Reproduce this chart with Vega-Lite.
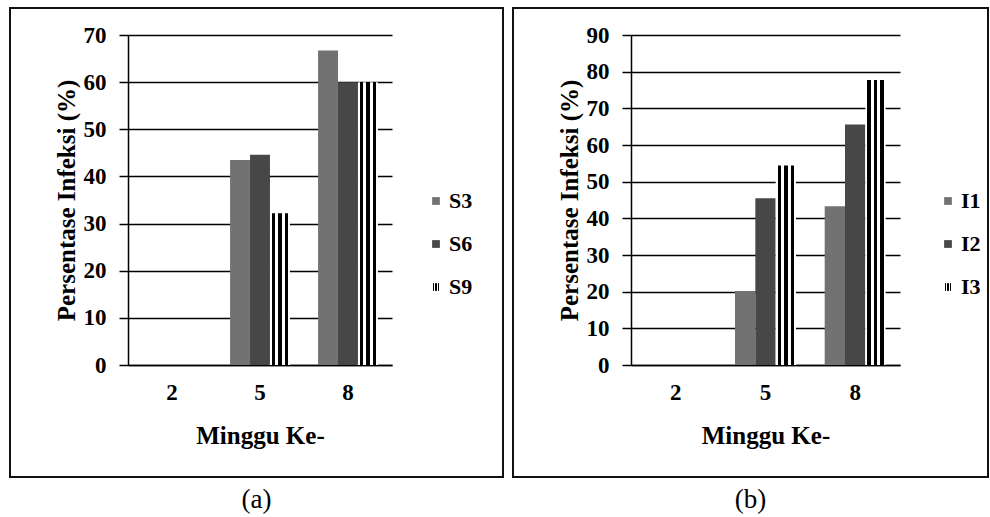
{
  "$schema": "https://vega.github.io/schema/vega-lite/v6.json",
  "padding": {"left": 9, "top": 7, "right": 4, "bottom": 4},
  "background": "white",
  "spacing": 8,
  "config": {
    "view": {"stroke": "#111", "strokeWidth": 2},
    "font": "Liberation Serif",
    "axis": {
      "labelFont": "Liberation Serif, Times New Roman, Times, serif", "labelFontWeight": "bold", "labelFontSize": 23, "labelColor": "black",
      "titleFont": "Liberation Serif, Times New Roman, Times, serif", "titleFontWeight": "bold", "titleFontSize": 25, "titleColor": "black",
      "domainColor": "black", "domainWidth": 1.5, "tickColor": "black", "tickWidth": 1.5,
      "gridColor": "black", "gridWidth": 1.3, "gridOpacity": 1
    },
    "legend": {
      "labelFont": "Liberation Serif, Times New Roman, Times, serif", "labelFontWeight": "bold", "labelFontSize": 22, "labelColor": "black",
      "symbolType": "square", "symbolSize": 60, "symbolStrokeWidth": 0, "rowPadding": 21, "labelOffset": 2
    },
    "title": {"font": "Liberation Serif, Times New Roman, Times, serif", "fontSize": 27, "fontWeight": "normal", "color": "black", "orient": "bottom", "offset": 10}
  },
  "datasets": {
    "a": [
      {"week": "2", "series": "S3", "value": 0},
      {"week": "2", "series": "S6", "value": 0},
      {"week": "2", "series": "S9", "value": 0},
      {"week": "5", "series": "S3", "value": 43.5},
      {"week": "5", "series": "S6", "value": 44.6},
      {"week": "5", "series": "S9", "value": 32.2},
      {"week": "8", "series": "S3", "value": 66.7},
      {"week": "8", "series": "S6", "value": 60},
      {"week": "8", "series": "S9", "value": 60}
    ],
    "b": [
      {"week": "2", "series": "I1", "value": 0},
      {"week": "2", "series": "I2", "value": 0},
      {"week": "2", "series": "I3", "value": 0},
      {"week": "5", "series": "I1", "value": 20.2},
      {"week": "5", "series": "I2", "value": 45.5},
      {"week": "5", "series": "I3", "value": 54.4},
      {"week": "8", "series": "I1", "value": 43.3},
      {"week": "8", "series": "I2", "value": 65.6},
      {"week": "8", "series": "I3", "value": 77.7}
    ]
  },
  "resolve": {"scale": {"fill": "independent", "x": "independent", "y": "independent", "xOffset": "independent"}, "legend": {"fill": "independent"}},
  "hconcat": [
    {
      "width": 493, "height": 469,
      "title": {"text": "(a)"},
      "data": {"name": "a"},
      "mark": {"type": "bar"},
      "encoding": {
        "x": {"field": "week", "type": "nominal", "sort": ["2", "5", "8"],
          "scale": {"range": [118, 382], "paddingInner": 0.32, "paddingOuter": 0.16},
          "axis": {"title": "Minggu Ke-", "labelAngle": 0, "ticks": false, "offset": -112, "labelPadding": 16, "titlePadding": 19, "grid": false}},
        "xOffset": {"field": "series", "type": "nominal", "sort": ["S3", "S6", "S9"], "scale": {"paddingInner": 0, "paddingOuter": 0}},
        "y": {"field": "value", "type": "quantitative",
          "scale": {"domain": [0, 70], "range": [357, 27], "nice": false},
          "axis": {"title": "Persentase Infeksi (%)", "values": [0, 10, 20, 30, 40, 50, 60, 70], "offset": -118, "tickSize": 9, "labelPadding": 13, "titlePadding": 4, "grid": true}},
        "fill": {"field": "series", "type": "nominal", "sort": ["S3", "S6", "S9"],
          "scale": {"domain": ["S3", "S6", "S9"], "range": ["#727272", "#474747", {"expr": "{gradient:'linear',x1:0,y1:0,x2:1,y2:0,stops:[{offset:0,color:'white'},{offset:0.1,color:'white'},{offset:0.1,color:'black'},{offset:0.27,color:'black'},{offset:0.27,color:'white'},{offset:0.42,color:'white'},{offset:0.42,color:'black'},{offset:0.59,color:'black'},{offset:0.59,color:'white'},{offset:0.74,color:'white'},{offset:0.74,color:'black'},{offset:0.91,color:'black'},{offset:0.91,color:'white'},{offset:1,color:'white'}]}"}]},
          "legend": {"title": null, "orient": "none", "legendX": 415, "legendY": 182}}
      }
    },
    {
      "width": 475, "height": 469,
      "title": {"text": "(b)"},
      "data": {"name": "b"},
      "mark": {"type": "bar"},
      "encoding": {
        "x": {"field": "week", "type": "nominal", "sort": ["2", "5", "8"],
          "scale": {"range": [118, 387], "paddingInner": 0.32, "paddingOuter": 0.16},
          "axis": {"title": "Minggu Ke-", "labelAngle": 0, "ticks": false, "offset": -112, "labelPadding": 16, "titlePadding": 19, "grid": false}},
        "xOffset": {"field": "series", "type": "nominal", "sort": ["I1", "I2", "I3"], "scale": {"paddingInner": 0, "paddingOuter": 0}},
        "y": {"field": "value", "type": "quantitative",
          "scale": {"domain": [0, 90], "range": [357, 27], "nice": false},
          "axis": {"title": "Persentase Infeksi (%)", "values": [0, 10, 20, 30, 40, 50, 60, 70, 80, 90], "offset": -118, "tickSize": 9, "labelPadding": 13, "titlePadding": 4, "grid": true}},
        "fill": {"field": "series", "type": "nominal", "sort": ["I1", "I2", "I3"],
          "scale": {"domain": ["I1", "I2", "I3"], "range": ["#727272", "#474747", {"expr": "{gradient:'linear',x1:0,y1:0,x2:1,y2:0,stops:[{offset:0,color:'white'},{offset:0.1,color:'white'},{offset:0.1,color:'black'},{offset:0.27,color:'black'},{offset:0.27,color:'white'},{offset:0.42,color:'white'},{offset:0.42,color:'black'},{offset:0.59,color:'black'},{offset:0.59,color:'white'},{offset:0.74,color:'white'},{offset:0.74,color:'black'},{offset:0.91,color:'black'},{offset:0.91,color:'white'},{offset:1,color:'white'}]}"}]},
          "legend": {"title": null, "orient": "none", "legendX": 424, "legendY": 182}}
      }
    }
  ]
}
